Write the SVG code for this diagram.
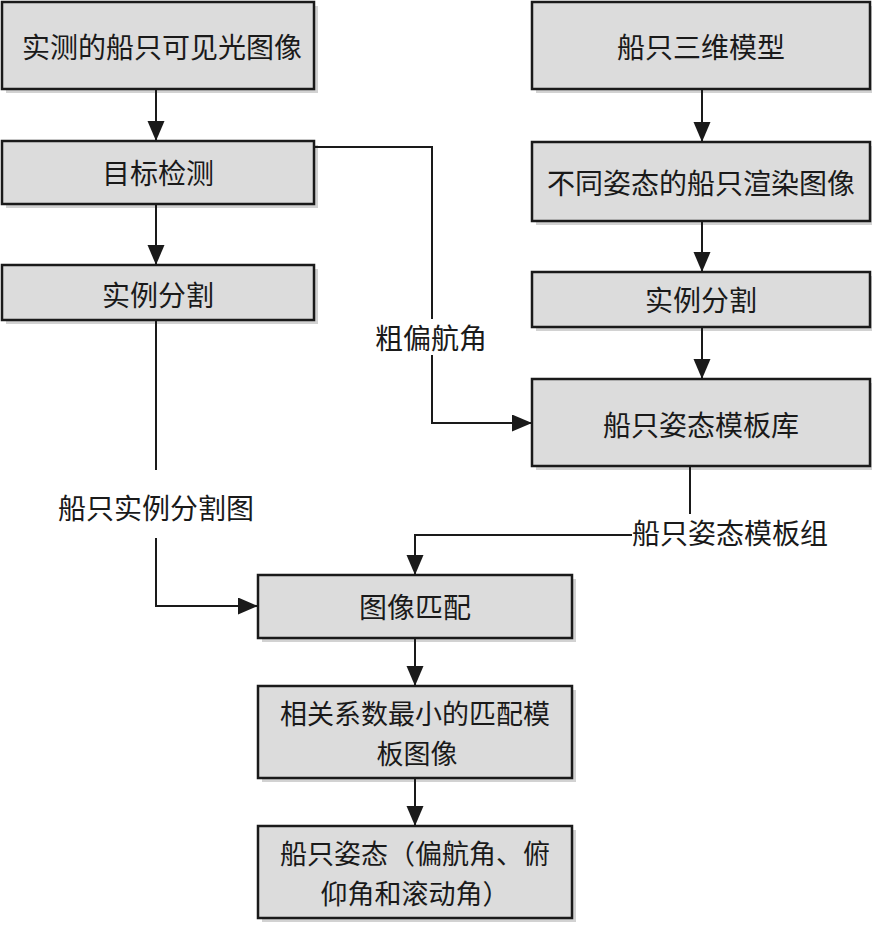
<svg xmlns="http://www.w3.org/2000/svg" width="872" height="935" viewBox="0 0 872 935">
<style>
.box{fill:#dcdcdc;stroke:#1a1a1a;stroke-width:2.5}
.sh{fill:#d2d2d2}
.t{font-family:"Noto Sans CJK SC","Noto Sans",sans-serif;font-size:28px;fill:#1a1a1a;text-anchor:middle;dominant-baseline:central}
.t2{font-size:27px}
.ln{fill:none;stroke:#1a1a1a;stroke-width:2}
</style>
<defs>
<marker id="ah" markerUnits="userSpaceOnUse" markerWidth="21" markerHeight="18" refX="20" refY="8.5" orient="auto">
<path d="M0,0 L20,8.5 L0,17 z" fill="#1a1a1a"/>
</marker>
</defs>
<rect width="872" height="935" fill="#ffffff"/>
<g id="n1"><rect class="sh" x="6" y="6" width="312" height="87"/><rect class="box" x="2" y="2" width="312" height="87"/><text class="t" x="162" y="46">实测的船只可见光图像</text></g>
<g id="n2"><rect class="sh" x="6" y="145" width="312" height="63"/><rect class="box" x="2" y="141" width="312" height="63"/><text class="t" x="158" y="172">目标检测</text></g>
<g id="n3"><rect class="sh" x="6" y="269" width="312" height="55"/><rect class="box" x="2" y="265" width="312" height="55"/><text class="t" x="158" y="294">实例分割</text></g>
<g id="n4"><rect class="sh" x="536" y="6" width="338" height="87"/><rect class="box" x="532" y="2" width="338" height="87"/><text class="t" x="701" y="46">船只三维模型</text></g>
<g id="n5"><rect class="sh" x="536" y="146" width="338" height="79"/><rect class="box" x="532" y="142" width="338" height="79"/><text class="t" x="701" y="182">不同姿态的船只渲染图像</text></g>
<g id="n6"><rect class="sh" x="536" y="276" width="338" height="55"/><rect class="box" x="532" y="272" width="338" height="55"/><text class="t" x="701" y="299">实例分割</text></g>
<g id="n7"><rect class="sh" x="536" y="383" width="338" height="87"/><rect class="box" x="532" y="379" width="338" height="87"/><text class="t" x="701" y="424">船只姿态模板库</text></g>
<g id="n8"><rect class="sh" x="262" y="579" width="314" height="63"/><rect class="box" x="258" y="575" width="314" height="63"/><text class="t" x="415" y="606">图像匹配</text></g>
<g id="n9"><rect class="sh" x="262" y="690" width="314" height="92"/><rect class="box" x="258" y="686" width="314" height="92"/><text class="t t2" x="415" y="712">相关系数最小的匹配模</text><text class="t t2" x="417" y="752">板图像</text></g>
<g id="n10"><rect class="sh" x="262" y="830" width="314" height="92"/><rect class="box" x="258" y="826" width="314" height="92"/><text class="t t2" x="415" y="852">船只姿态（偏航角、俯</text><text class="t t2" x="415" y="892">仰角和滚动角）</text></g>
<g id="connectors">
<path class="ln" d="M156,89 V141" marker-end="url(#ah)"/>
<path class="ln" d="M156,204 V265" marker-end="url(#ah)"/>
<path class="ln" d="M314,147 H432 V319"/>
<path class="ln" d="M432,355 V423 H532" marker-end="url(#ah)"/>
<text class="t" x="431" y="337">粗偏航角</text>
<path class="ln" d="M156,320 V470"/>
<path class="ln" d="M156,538 V606 H258" marker-end="url(#ah)"/>
<text class="t" x="156" y="507">船只实例分割图</text>
<path class="ln" d="M702,89 V142" marker-end="url(#ah)"/>
<path class="ln" d="M702,221 V272" marker-end="url(#ah)"/>
<path class="ln" d="M702,327 V379" marker-end="url(#ah)"/>
<path class="ln" d="M690,466 V514"/>
<path class="ln" d="M632,535 H415 V575" marker-end="url(#ah)"/>
<text class="t" x="632" y="532" style="text-anchor:start">船只姿态模板组</text>
<path class="ln" d="M415,638 V686" marker-end="url(#ah)"/>
<path class="ln" d="M415,778 V826" marker-end="url(#ah)"/>
</g>
</svg>
